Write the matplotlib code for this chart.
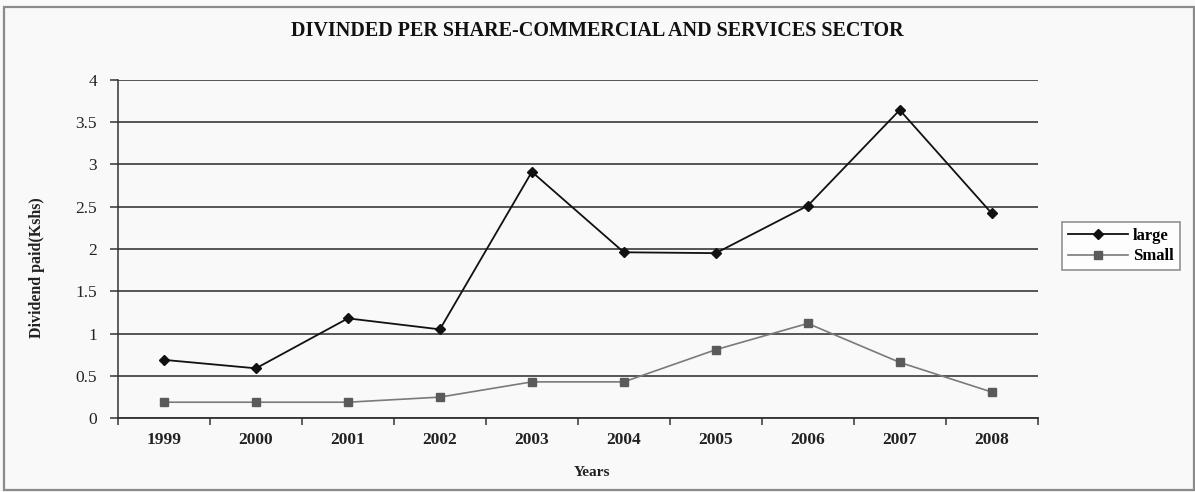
import matplotlib
matplotlib.use("Agg")
import matplotlib.pyplot as plt
from matplotlib.patches import Rectangle
from matplotlib.ticker import FixedLocator, NullFormatter

years = ["1999", "2000", "2001", "2002", "2003", "2004", "2005", "2006", "2007", "2008"]
large = [0.69, 0.59, 1.18, 1.05, 2.91, 1.96, 1.95, 2.51, 3.64, 2.42]
small = [0.19, 0.19, 0.19, 0.25, 0.43, 0.43, 0.81, 1.12, 0.66, 0.31]
yticks = [0, 0.5, 1, 1.5, 2, 2.5, 3, 3.5, 4]
ytick_labels = ["0", "0.5", "1", "1.5", "2", "2.5", "3", "3.5", "4"]

title = "DIVINDED PER SHARE-COMMERCIAL AND SERVICES SECTOR"
xlabel = "Years"
ylabel = "Dividend paid(Kshs)"

serif = ["Liberation Serif", "DejaVu Serif"]

fig = plt.figure(figsize=(11.95, 4.92), dpi=100)
fig.patch.set_facecolor("#f9f9f9")

# outer chart frame
fig.patches.append(Rectangle((4 / 1195, 1 - 490 / 492), 1190 / 1195, 483 / 492,
                             transform=fig.transFigure, fill=False,
                             edgecolor="#8a8a8a", linewidth=1.6))

ax = fig.add_axes([118 / 1195, 1 - 418.3 / 492, (1037.7 - 118) / 1195, (418.3 - 79.5) / 492])
ax.set_facecolor("none")

x = list(range(len(years)))
ax.plot(x, large, color="#111111", linewidth=1.3, marker="D", markersize=5.5,
        markerfacecolor="#111111", markeredgecolor="#111111", label="large", zorder=4)
ax.plot(x, small, color="#7a7a7a", linewidth=1.2, marker="s", markersize=6,
        markerfacecolor="#5a5a5a", markeredgecolor="#5a5a5a", label="Small", zorder=3)

ax.set_xlim(-0.5, len(years) - 0.5)
ax.set_ylim(0, 4)

ax.set_yticks(yticks)
ax.set_yticklabels(ytick_labels, fontfamily=serif, fontsize=12.5, color="#222222")
ax.yaxis.grid(True, color="#3a3a3a", linewidth=1.2)
ax.set_axisbelow(True)

ax.set_xticks(x)
ax.set_xticklabels(years, fontfamily=serif, fontsize=12.5, fontweight="bold", color="#222222")
ax.xaxis.set_minor_locator(FixedLocator([i - 0.5 for i in range(len(years) + 1)]))
ax.xaxis.set_minor_formatter(NullFormatter())
ax.tick_params(axis="x", which="major", length=0, pad=10)
ax.tick_params(axis="x", which="minor", length=5, direction="out", color="#333333", width=1.1)
ax.tick_params(axis="y", length=6, direction="out", color="#333333", width=1.1, pad=9)

for s in ["top", "right"]:
    ax.spines[s].set_visible(False)
ax.spines["left"].set_color("#333333")
ax.spines["left"].set_linewidth(1.1)
ax.spines["bottom"].set_color("#333333")
ax.spines["bottom"].set_linewidth(1.3)

fig.text(597 / 1195, 1 - 31 / 492, title, ha="center", va="center",
         fontfamily=serif, fontsize=14.5, fontweight="bold", color="#111111")
fig.text(592 / 1195, 1 - 472 / 492, xlabel, ha="center", va="center",
         fontfamily=serif, fontsize=11, fontweight="bold", color="#222222")
fig.text(37 / 1195, 1 - 268 / 492, ylabel, ha="center", va="center", rotation=90,
         fontfamily=serif, fontsize=11.5, fontweight="bold", color="#222222")

leg = fig.legend(loc="center", bbox_to_anchor=(1121 / 1195, 1 - 246 / 492),
                 prop={"family": serif, "size": 12, "weight": "bold"},
                 frameon=True, fancybox=False, edgecolor="#777777",
                 handlelength=3.6, handletextpad=0.3, borderpad=0.35,
                 labelspacing=0.3, borderaxespad=0)
leg.get_frame().set_linewidth(1.2)

fig.savefig("out.png", dpi=100, facecolor=fig.get_facecolor())
